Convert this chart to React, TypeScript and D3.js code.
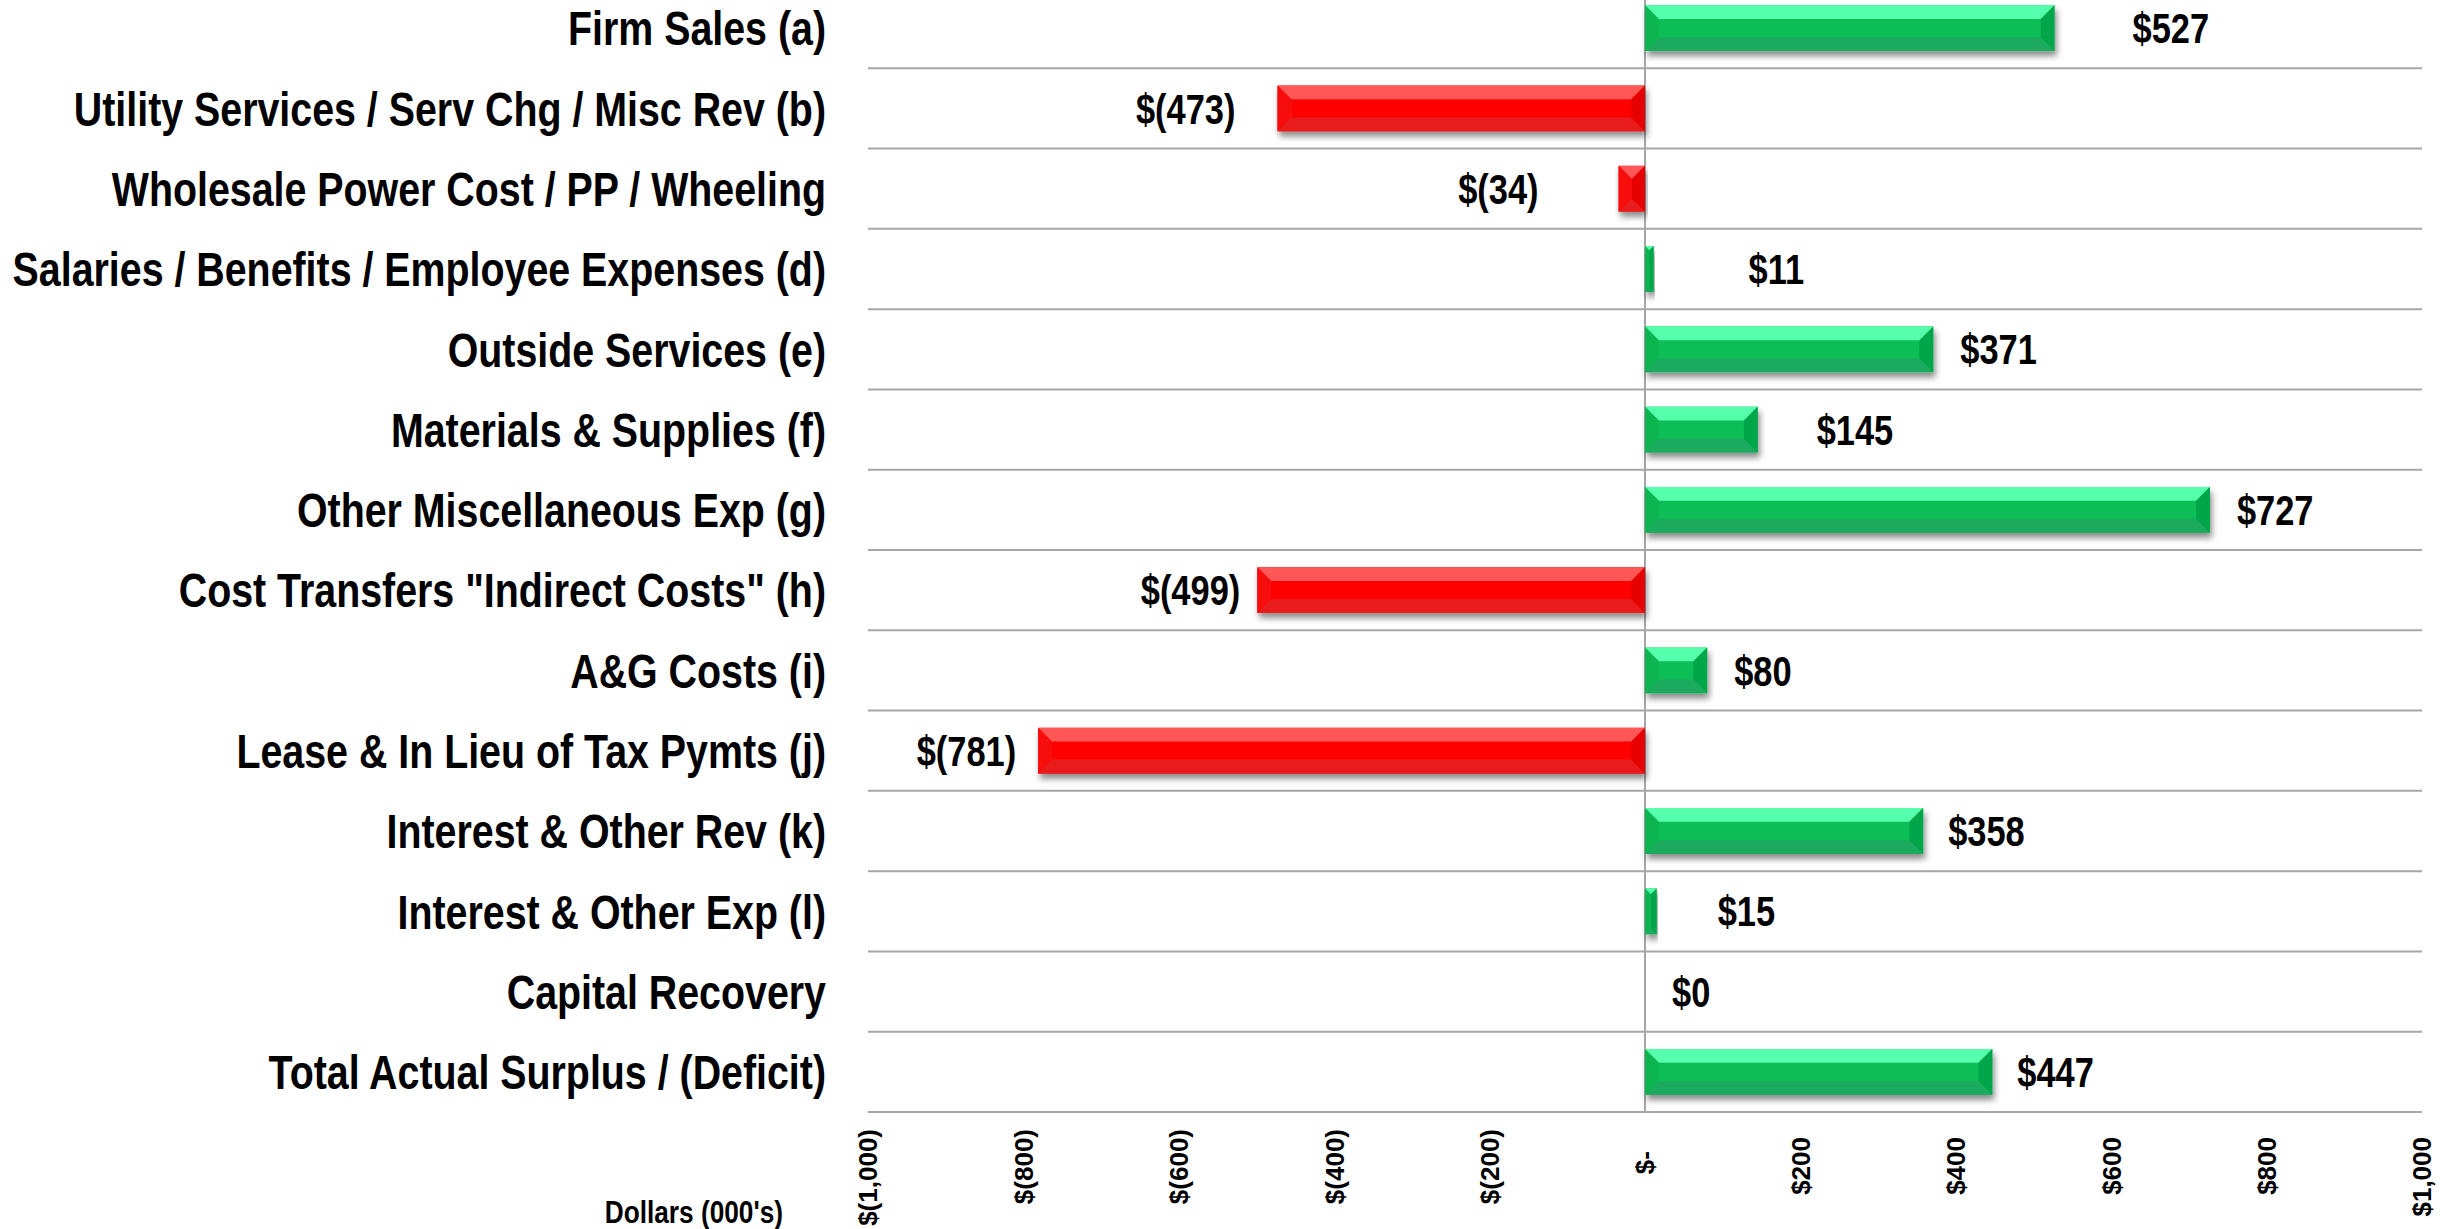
import React, { useEffect, useRef } from "react";
import * as d3 from "d3";

const categories = [
  "Firm Sales (a)",
  "Utility Services / Serv Chg / Misc Rev (b)",
  "Wholesale Power Cost / PP / Wheeling",
  "Salaries / Benefits / Employee Expenses (d)",
  "Outside Services (e)",
  "Materials & Supplies (f)",
  "Other Miscellaneous Exp (g)",
  'Cost Transfers "Indirect Costs" (h)',
  "A&G Costs (i)",
  "Lease & In Lieu of Tax Pymts (j)",
  "Interest & Other Rev (k)",
  "Interest & Other Exp (l)",
  "Capital Recovery",
  "Total Actual Surplus / (Deficit)",
];

const values = [527, -473, -34, 11, 371, 145, 727, -499, 80, -781, 358, 15, 0, 447];

// gap (px) between bar end and its data label, as placed in the original
const labelGap = [78, 42, 80, 95, 27, 59, 27, 17, 27, 22, 25, 61, 27, 25];

const ticks = [-1000, -800, -600, -400, -200, 0, 200, 400, 600, 800, 1000];

const W = 2453;
const H = 1229;
const FONT = "'Liberation Sans', Arial, sans-serif";
const NARROW_X = 0.82; // Arial Narrow ~ Arial squeezed horizontally

const fmt = (v: number) => {
  if (v === 0) return "$0";
  return v < 0 ? `$(${Math.abs(v)})` : `$${v}`;
};

const tickFmt = (v: number) => {
  if (v === 0) return "$-";
  const s = d3.format(",")(Math.abs(v));
  return v < 0 ? `$(${s})` : `$${s}`;
};

const GREEN = { top: "#57FFAB", mid: "#08BD56", bot: "#1CAA5E", left: "#0BB551", right: "#04A649" };
const RED = { top: "#FF5757", mid: "#FF0606", bot: "#E81D1D", left: "#F80F0F", right: "#E60202" };

const App = () => {
  const svgRef = useRef(null);

  useEffect(() => {
    const svg = d3.select(svgRef.current);
    svg.selectAll("*").remove();

    const x = d3.scaleLinear().domain([-1000, 1000]).range([868, 2422]);
    const y = d3.scaleBand().domain(categories).range([-12, 1112]).padding(0);
    const barH = y.step() * 0.57;

    const defs = svg.append("defs");
    const f = defs
      .append("filter")
      .attr("id", "shadow")
      .attr("x", "-10%")
      .attr("y", "-30%")
      .attr("width", "120%")
      .attr("height", "180%");
    f.append("feDropShadow")
      .attr("dx", 2)
      .attr("dy", 5)
      .attr("stdDeviation", 3)
      .attr("flood-color", "#000")
      .attr("flood-opacity", 0.45);

    // narrow bold text: Liberation Sans squeezed like Arial Narrow
    const narrowText = (parent, px: number, py: number, size: number, anchor: string, txt: string) =>
      parent
        .append("g")
        .attr("transform", `translate(${px},${py}) scale(${NARROW_X},1)`)
        .append("text")
        .attr("dy", "0.36em")
        .attr("text-anchor", anchor)
        .attr("font-family", FONT)
        .attr("font-weight", "bold")
        .attr("font-size", size)
        .attr("fill", "#000")
        .text(txt);

    // gridlines between rows
    const g = svg.append("g");
    g.selectAll(".grid")
      .data(categories.slice(1))
      .join("line")
      .attr("x1", x(-1000))
      .attr("x2", x(1000))
      .attr("y1", (d) => y(d))
      .attr("y2", (d) => y(d))
      .attr("stroke", "#A6A6A6")
      .attr("stroke-width", 2);
    g.append("line")
      .attr("x1", x(-1000))
      .attr("x2", x(1000))
      .attr("y1", y.range()[1])
      .attr("y2", y.range()[1])
      .attr("stroke", "#A6A6A6")
      .attr("stroke-width", 2);

    // zero line
    g.append("line")
      .attr("x1", x(0))
      .attr("x2", x(0))
      .attr("y1", 0)
      .attr("y2", y.range()[1])
      .attr("stroke", "#A6A6A6")
      .attr("stroke-width", 2);

    // bevelled bars
    const rows = categories.map((c, i) => ({ c, v: values[i], gap: labelGap[i] }));
    const bars = g
      .selectAll(".bar")
      .data(rows.filter((d) => d.v !== 0))
      .join("g")
      .attr("filter", "url(#shadow)");

    bars.each(function (d) {
      const sel = d3.select(this);
      const x0 = Math.min(x(0), x(d.v));
      const x1 = Math.max(x(0), x(d.v));
      const y0 = y(d.c) + (y.step() - barH) / 2;
      const y1 = y0 + barH;
      const w = x1 - x0;
      const b = Math.min(barH * 0.3, w / 2);
      const col = d.v >= 0 ? GREEN : RED;
      const poly = (pts: number[][], fill: string) =>
        sel.append("polygon").attr("points", pts.map((p) => p.join(",")).join(" ")).attr("fill", fill);
      sel.append("rect").attr("x", x0).attr("y", y0).attr("width", w).attr("height", barH).attr("fill", col.mid);
      poly([[x0, y0], [x1, y0], [x1 - b, y0 + b], [x0 + b, y0 + b]], col.top);
      poly([[x0, y1], [x1, y1], [x1 - b, y1 - b], [x0 + b, y1 - b]], col.bot);
      poly([[x0, y0], [x0 + b, y0 + b], [x0 + b, y1 - b], [x0, y1]], col.left);
      poly([[x1, y0], [x1 - b, y0 + b], [x1 - b, y1 - b], [x1, y1]], col.right);
    });

    // data labels
    rows.forEach((d) => {
      const px = d.v >= 0 ? x(d.v) + d.gap : x(d.v) - d.gap;
      narrowText(g, px, y(d.c) + y.step() / 2, 42, d.v >= 0 ? "start" : "end", fmt(d.v));
    });

    // category labels
    categories.forEach((c) => {
      narrowText(g, 826, y(c) + y.step() / 2, 48, "end", c);
    });

    // x tick labels, rotated
    const axisY = y.range()[1];
    g.selectAll(".tick")
      .data(ticks)
      .join("text")
      .attr("transform", (d) => {
        const pad = d === 0 ? 22 : d > 0 ? 8 : 0;
        return `translate(${x(d)},${axisY + 17 + pad}) rotate(-90)`;
      })
      .attr("dy", "0.36em")
      .attr("text-anchor", "end")
      .attr("font-family", FONT)
      .attr("font-weight", "bold")
      .attr("font-size", 26)
      .attr("fill", "#000")
      .text((d) => tickFmt(d));

    narrowText(g, 783, 1211, 32, "end", "Dollars (000's)");
  }, []);

  return (
    <svg
      ref={svgRef}
      width={W}
      height={H}
      style={{ position: "absolute", left: 0, top: 0, background: "#fff" }}
    ></svg>
  );
};

export default App;
